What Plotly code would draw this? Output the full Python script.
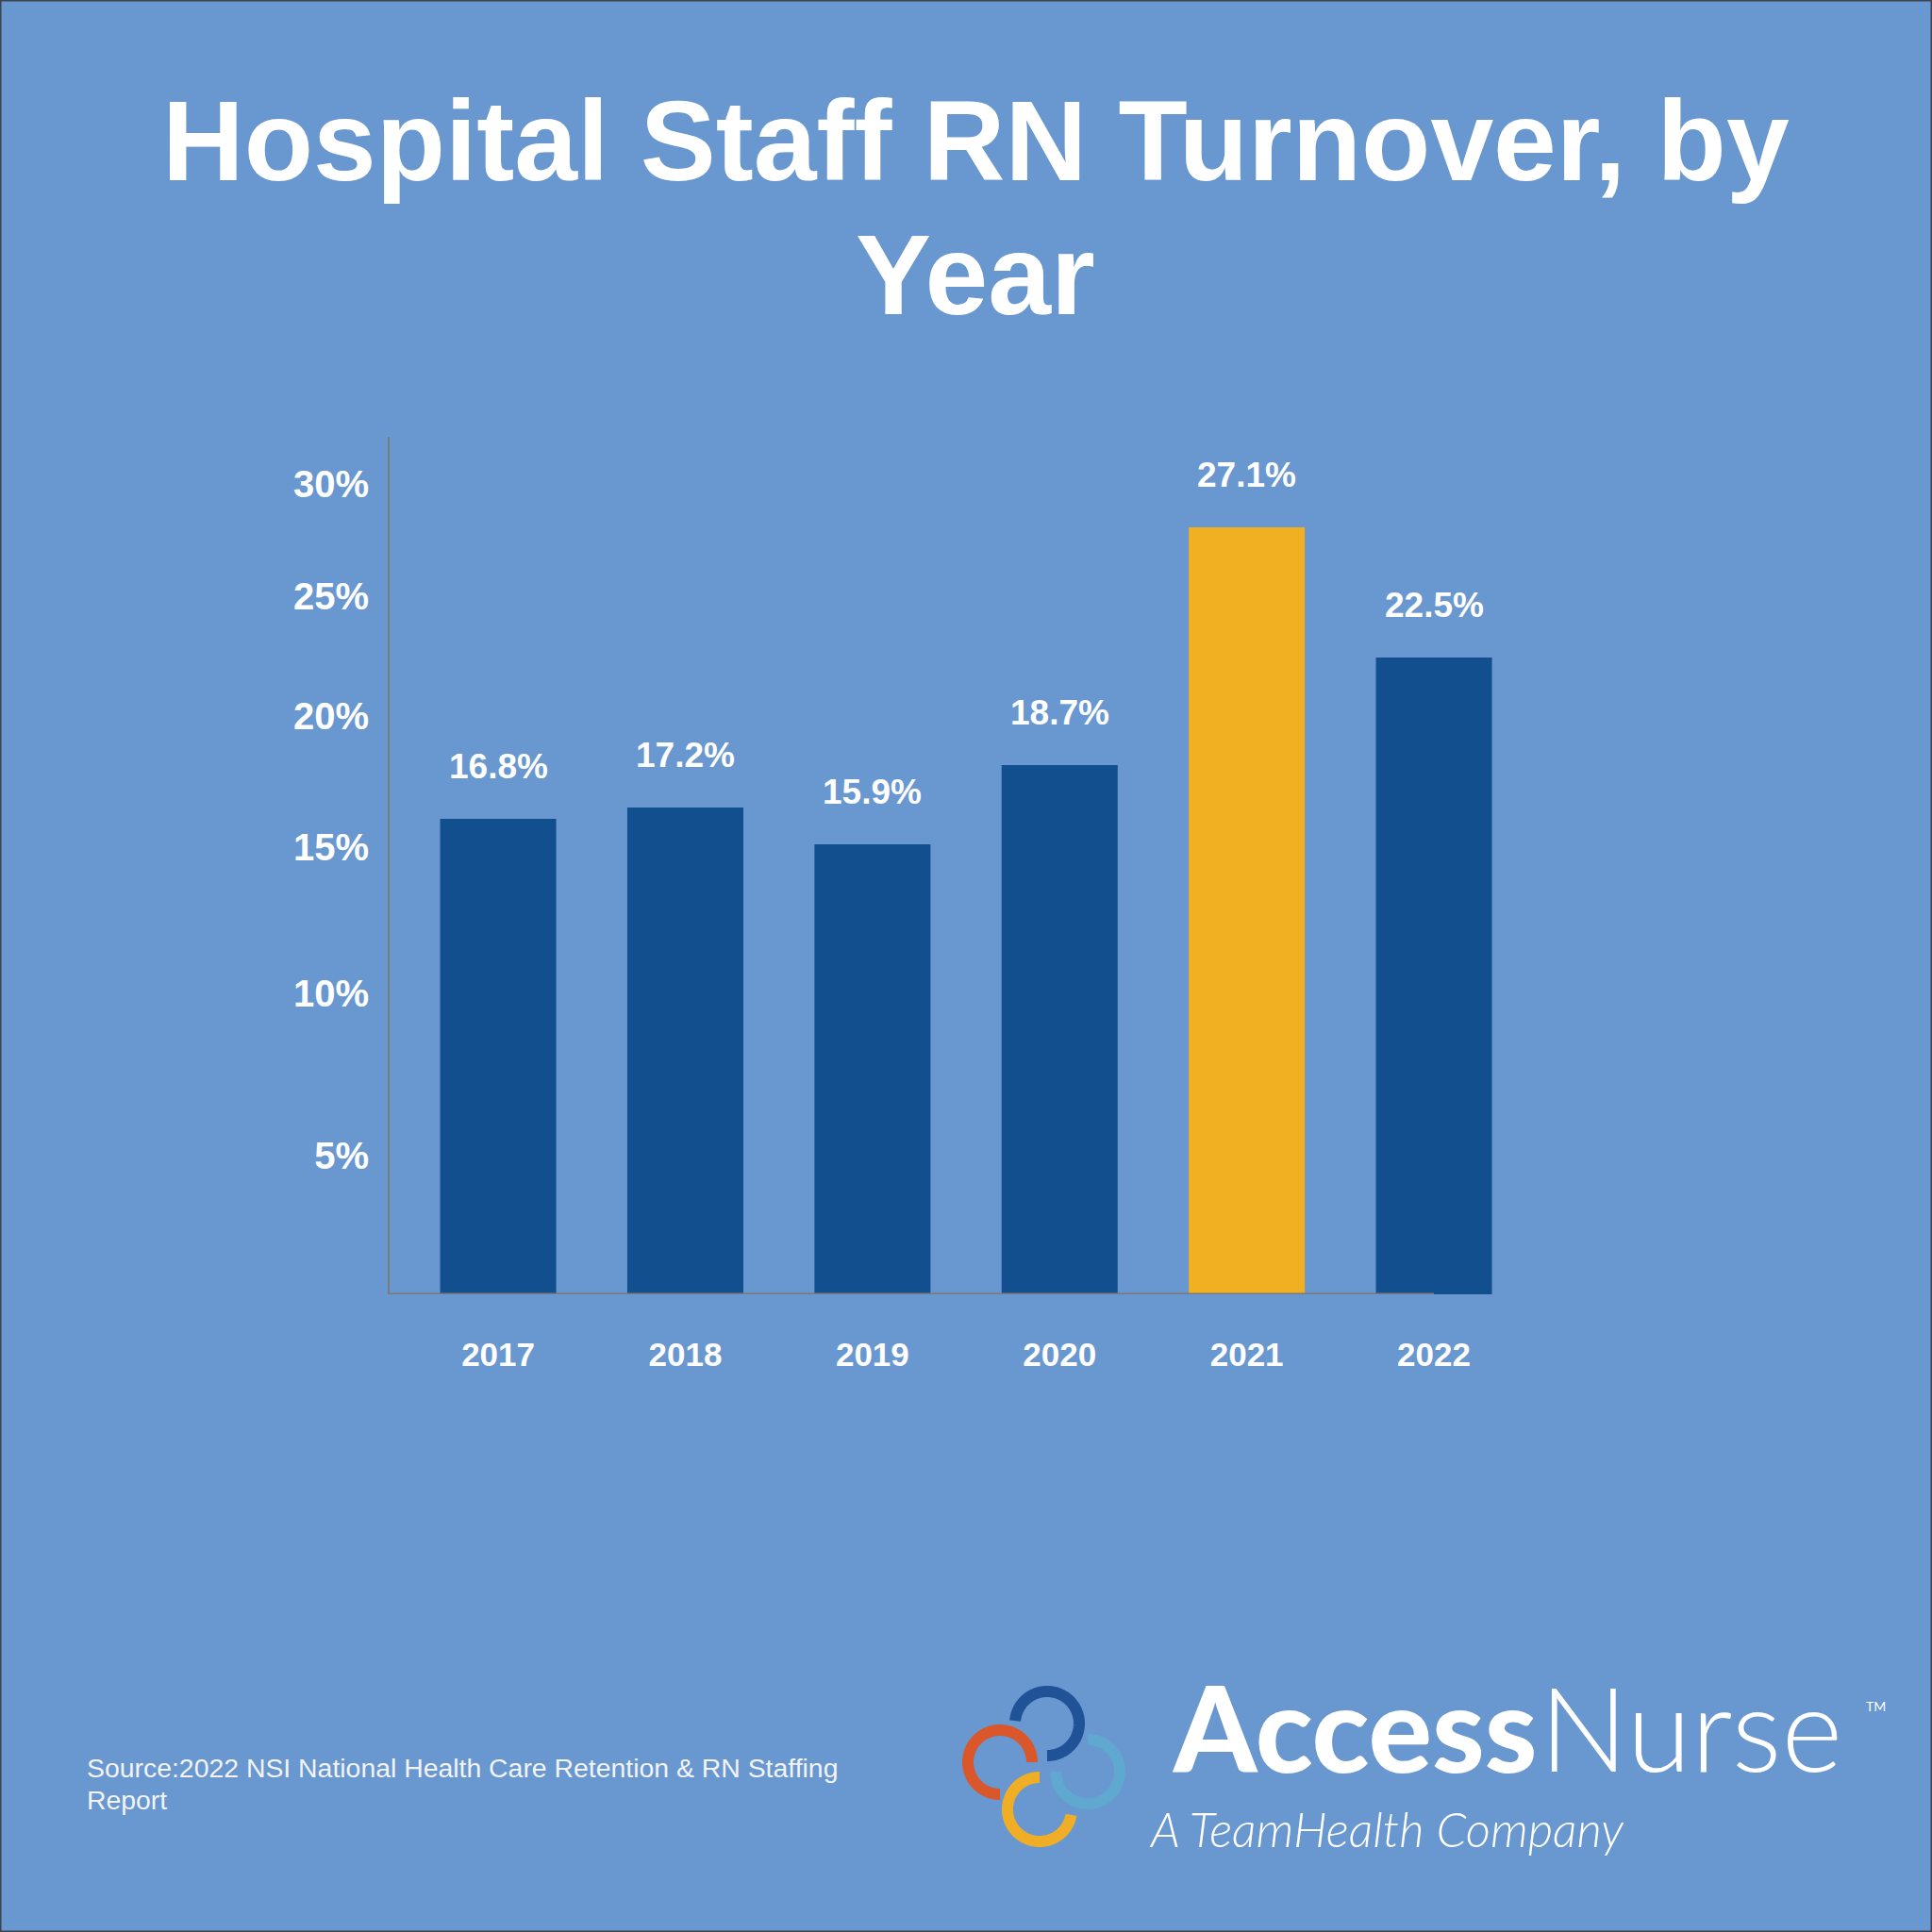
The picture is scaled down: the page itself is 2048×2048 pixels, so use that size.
import numpy as np
import plotly.graph_objects as go

# ---- data ----
years = ['2017', '2018', '2019', '2020', '2021', '2022']
turnover = [16.8, 17.2, 15.9, 18.7, 27.1, 22.5]
tick_positions = [4.9, 10.64, 15.8, 20.43, 24.67, 28.63]
tick_labels = ['5%', '10%', '15%', '20%', '25%', '30%']

# ---- style ----
BG = '#6997CF'
DARK = '#114F8F'
GOLD = '#F1AF22'
bar_colors = [GOLD if y == '2021' else DARK for y in years]
W = H = 2048
BOLD = 'Liberation Sans, Arial, sans-serif'


def px(x):
    return x / W


def py(y):
    return 1 - y / H


fig = go.Figure()
fig.add_trace(go.Bar(
    x=years, y=turnover, marker=dict(color=bar_colors, line=dict(width=0)),
    hoverinfo='skip', showlegend=False))

# data labels above bars (x given as category index)
for i, v in enumerate(turnover):
    fig.add_annotation(x=i, y=v, xref='x', yref='y', text=f'<b>{v}%</b>',
                       showarrow=False, yanchor='middle', yshift=56,
                       font=dict(family=BOLD, size=37, color='white'))

# logo rings (pixel coordinate overlay axes)
rings = [
    ('#D9572A', 1060, 1868, 90, 360),
    ('#F0AE27', 1102, 1918, 270, 10),
    ('#5FA8D0', 1153, 1878, 270, 540),
    ('#1F5297', 1110, 1827, 185, 450),
]
for col, cx, cy, a0, a1 in rings:
    th = np.radians(np.linspace(a0, a1, 200))
    fig.add_trace(go.Scatter(x=cx + 34 * np.cos(th), y=cy + 34 * np.sin(th),
                             mode='lines',
                             line=dict(color=col, width=12, simplify=False),
                             xaxis='x2', yaxis='y2', hoverinfo='skip',
                             showlegend=False))

x_lo = -0.58
fig.update_layout(
    width=W, height=H, paper_bgcolor=BG, plot_bgcolor='rgba(0,0,0,0)',
    margin=dict(l=0, r=0, t=0, b=0),
    bargap=0.38,
    xaxis=dict(domain=[px(413), px(1600)], range=[x_lo, 5.403], type='category',
               showline=False, showgrid=False, zeroline=False, ticks='',
               tickfont=dict(family=BOLD, size=35, color='white', weight='bold'),
               ticklabelstandoff=40),
    yaxis=dict(domain=[py(1372), py(463)], range=[0, 30.3],
               showline=True, linecolor='#7A7A7A', linewidth=2,
               showgrid=False, zeroline=False, ticks='',
               tickvals=tick_positions, ticktext=tick_labels,
               tickfont=dict(family=BOLD, size=40, color='white', weight='bold'),
               ticklabelstandoff=12),
    xaxis2=dict(domain=[0, 1], range=[0, W], visible=False, anchor='y2', fixedrange=True),
    yaxis2=dict(domain=[0, 1], range=[H, 0], visible=False, anchor='x2', fixedrange=True),
)

# x axis baseline (ends at the centre of the last bar as in the reference)
fig.add_shape(type='line', xref='x', yref='y', x0=x_lo, x1=5, y0=0, y1=0,
              line=dict(color='#7A7A7A', width=3))
# thin frame
fig.add_shape(type='rect', xref='paper', yref='paper', x0=0, x1=1, y0=0, y1=1,
              line=dict(color='#3F4450', width=3))

# title
fig.add_annotation(xref='paper', yref='paper', x=px(1034), y=py(149),
                   text='<b>Hospital Staff RN Turnover, by</b>', showarrow=False,
                   xanchor='center', yanchor='middle',
                   font=dict(family=BOLD, size=120, color='white'))
fig.add_annotation(xref='paper', yref='paper', x=px(1034), y=py(291),
                   text='<b>Year</b>', showarrow=False,
                   xanchor='center', yanchor='middle',
                   font=dict(family=BOLD, size=120, color='white'))

# source
REG = 'Liberation Sans, Arial, sans-serif'
fig.add_annotation(xref='paper', yref='paper', x=px(90), y=py(1874),
                   text='Source:2022 NSI National Health Care Retention & RN Staffing',
                   showarrow=False, xanchor='left', yanchor='middle',
                   font=dict(family=REG, size=28.4, color='#F2F4F8'))
fig.add_annotation(xref='paper', yref='paper', x=px(90), y=py(1908),
                   text='Report', showarrow=False, xanchor='left', yanchor='middle',
                   font=dict(family=REG, size=28.4, color='#F2F4F8'))

# logo text
fig.add_annotation(xref='paper', yref='paper', x=px(1632), y=py(1830),
                   text='Access', showarrow=False, xanchor='right', yanchor='middle',
                   font=dict(family='Lato', size=126, color='white', weight=900))
fig.add_annotation(xref='paper', yref='paper', x=px(1630), y=py(1830),
                   text='Nurse', showarrow=False, xanchor='left', yanchor='middle',
                   font=dict(family='Lato', size=124, color='white', weight=300))
fig.add_annotation(xref='paper', yref='paper', x=px(1976), y=py(1808),
                   text='TM', showarrow=False, xanchor='left', yanchor='middle',
                   font=dict(family='Lato', size=14, color='white'))
fig.add_annotation(xref='paper', yref='paper', x=px(1216), y=py(1938),
                   text='<i>A TeamHealth Company</i>', showarrow=False,
                   xanchor='left', yanchor='middle',
                   font=dict(family='Lato', size=51, color='white', weight=300))

fig.write_html('out.html')
